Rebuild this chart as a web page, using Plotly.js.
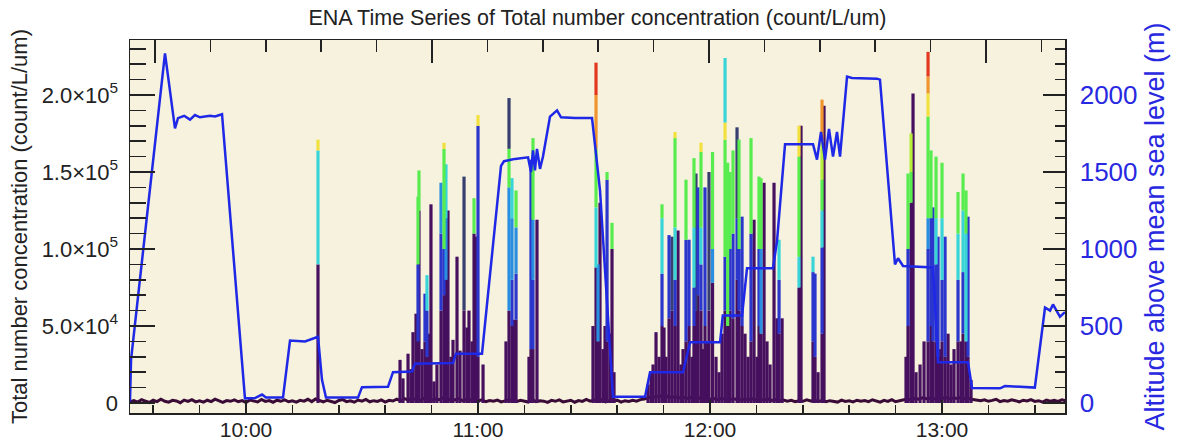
<!DOCTYPE html>
<html><head><meta charset="utf-8">
<script src="https://cdn.plot.ly/plotly-3.0.1.min.js"></script>
<style>html,body{margin:0;padding:0;background:#fff}</style>
</head><body><div id="chart" style="width:1185px;height:442px"></div>
<script>
const DAY = '2017-07-01 ';
const FONT = 'Liberation Sans, Arial, Helvetica, sans-serif';

// Altitude (m), right axis
const altTimes = ["09:30:00","09:30:16","09:39:03","09:41:38","09:42:25","09:44:00","09:45:31","09:46:48","09:48:06","09:50:41","09:52:00","09:53:48","09:59:44","10:02:20","10:04:08","10:05:10","10:09:34","10:11:23","10:15:16","10:18:06","10:18:37","10:19:39","10:20:41","10:28:58","10:30:00","10:36:43","10:38:01","10:42:55","10:43:42","10:53:32","10:54:18","11:01:02","11:05:57","11:06:43","11:09:34","11:12:56","11:13:42","11:14:13","11:14:44","11:15:15","11:16:02","11:16:48","11:18:37","11:20:26","11:21:28","11:25:05","11:29:29","11:31:33","11:34:54","11:43:12","11:44:29","11:53:01","11:54:50","12:02:36","12:03:18","12:08:17","12:09:34","12:16:17","12:17:20","12:19:24","12:26:38","12:27:40","12:28:42","12:29:44","12:30:46","12:31:48","12:32:50","12:33:37","12:35:26","12:36:43","12:43:11","12:43:57","12:47:50","12:48:37","12:49:55","12:57:40","12:58:58","13:06:43","13:07:45","13:15:00","13:16:17","13:24:00","13:26:38","13:27:56","13:28:42","13:30:30","13:31:47"];
const altMeters = [10,280,2270,1783,1850,1865,1840,1870,1855,1865,1860,1875,30,32,55,35,35,405,400,425,430,150,35,35,103,105,200,205,255,260,320,320,1540,1570,1585,1595,1500,1640,1510,1650,1520,1600,1860,1900,1855,1850,1850,1380,40,40,200,200,394,394,568,568,875,875,1053,1680,1680,1580,1760,1580,1780,1600,1760,1600,2119,2110,2106,2100,900,940,890,880,265,265,97,95,110,100,620,600,640,560,590];

// Baseline total concentration, one value per minute from 09:30
const baselineStart = "09:30:00";
const baselineValues = [
800,1500,600,2100,1200,300,1800,900,2400,1100,
500,1700,1300,200,1900,1000,2200,700,1400,600,
1800,900,2500,1200,400,1600,1100,2000,800,1500,
300,1900,1200,700,2300,1000,1600,500,1800,1100,
2000,800,1400,600,1700,1200,2400,900,2600,1500,
700,1800,1100,300,1600,2200,900,1400,500,1900,
1200,2300,800,1500,1000,2000,600,1700,1300,2500,
1400,2800,1900,3200,2200,1600,3000,2400,1800,2700,
2100,3300,1700,2600,2000,2900,1500,2300,1900,2500,
1300,2000,800,1600,1100,1900,700,1400,2100,1600,
1000,1800,1300,600,2200,900,1500,1200,400,1700,
1100,2000,700,1400,1800,500,1600,1000,2300,1200,
1900,1400,2100,800,1600,1100,1800,600,1500,1000,
1700,1200,2200,2600,3500,4200,3800,4600,3900,4400,
3600,4100,3300,3900,3000,3500,2800,3400,2600,3100,
2400,2900,2200,3000,2500,2000,2800,2300,1900,2600,
2100,2700,1800,2400,2000,2600,1700,2300,1500,1900,
1200,1700,900,1500,1100,2000,1300,1800,1000,1600,
800,1500,1200,600,1900,1000,1400,700,1800,1100,
1600,900,2100,1300,500,1700,1000,2200,800,1400,
1900,2600,2200,3100,2500,3400,2800,3200,2600,3500,
3000,3600,2700,3300,2900,3700,2600,3100,2200,1800,
1400,2000,1100,1700,2400,900,1600,1200,2100,1500,
700,1800,1300,2200,1000,1500,600,1900,1200,1700,
1000,2000,1400];

// Spikes: time and colour stack (key + upper value in thousands)
const spikeTimes = ["10:18:37","10:39:50","10:40:36","10:41:54","10:42:40","10:43:11","10:43:58","10:44:29","10:44:44","10:45:31","10:46:17","10:46:48","10:47:19","10:47:50","10:48:36","10:49:23","10:50:26","10:51:12","10:51:43","10:52:14","10:53:01","10:53:32","10:54:34","10:55:21","10:56:23","10:57:09","10:57:40","10:58:27","10:58:58","10:59:29","11:00:00","11:01:18","11:07:14","11:08:01","11:08:47","11:09:18","11:09:50","11:13:11","11:13:42","11:14:13","11:15:15","11:29:44","11:30:31","11:31:02","11:31:33","11:32:20","11:32:51","11:33:22","11:34:08","11:34:39","11:35:10","11:43:58","11:44:45","11:45:16","11:46:02","11:46:49","11:47:35","11:48:06","11:48:37","11:49:24","11:50:10","11:50:57","11:51:43","11:52:30","11:53:01","11:53:47","11:54:34","11:55:20","11:55:51","11:56:22","11:56:53","11:57:40","11:58:11","11:58:42","11:59:13","11:59:44","12:00:39","12:01:33","12:02:20","12:03:06","12:03:53","12:04:34","12:05:10","12:05:57","12:06:59","12:07:30","12:08:17","12:09:03","12:09:50","12:10:36","12:11:23","12:12:09","12:12:40","12:13:11","12:13:58","12:14:44","12:15:31","12:16:33","12:17:20","12:17:51","12:18:38","12:23:01","12:23:32","12:26:38","12:27:09","12:27:56","12:28:58","12:29:29","12:50:41","12:51:12","12:51:59","12:52:30","12:53:17","12:54:19","12:55:21","12:56:23","12:57:09","12:57:40","12:58:27","12:58:58","12:59:29","13:00:00","13:00:47","13:01:33","13:02:20","13:03:06","13:04:08","13:04:55","13:05:26","13:06:12","13:06:43","13:07:30"];
const spikeStacks = ["P90 C164 Y171","P28","P16","P32","P22","P46","P58","P40 B90 G134","P125 G151","P35","P40 B71","P30 B60 C83","P45","P129","P14","P25","P60 B110 A143","P70 B100 G165 Y169","P80 A120 C155","P125","P30","P41","P95","P34","P60 S147","P49","P60","P40","P110 G133","P108","P30 B180 Y187","P25","P40","P60 A140 G165 S198","P50 B80 A120 C146","P54","P54 B84 A114 G138","P30","P35 B158","P35 B80 A119 G172","P119","P50","P88 C127 G165 O200 R221","P40 A90","P130","P35","P50","P40 B145 G150","P45","P100 G117","P20","P12","P20","P25","P46","P30","P50 B84 C120 G129","P49","P30","P55 B109","P60 S108","P50 B80 C114 G172 Y176","P112","P25","P35","P40 B106 G145","P50 B106","P30","P50 B75 C114 G159","P60 S149","P70 B140","P60 B90 C114 G163 Y169","P35","P50 B140","P40","P60 S150","P78 A100 G163","P30","P20","P45","P60 B95 G171 Y182 C224","P50 G156","P60 B100 G150","P55 B110 G164","P80 B120 S179","P60 B100 G171","P50 B121","P45","P30","P40 B110 G172","P119","P30","P50 B100 G147","P45 A100 G146","P143","P40","P25","P143","P55","P45 B80 C106","P55","P75 C95 G160 Y180","P180","P40 B85 C95","P30 B84","P20","P45 B101 C125 G145 L171 O197","P193","P30","P50 B100 G149","P130 G150 L175","P201","P20","P25","P40","P40 B100 A120 G186 Y201 O212 R228","P50 B120 G164","P40 B127","P40 B90 C120 G160","P30 B108","P35","P40 B80 C120 G156","P30 B108","P45","P25","P35","P40 B80 C110 G137","P40","P45 B85 C125 G149","P40 C110 G138","P30 B121","P15"];

const stackOrder = ['P','S','B','A','C','G','L','Y','O','R'];
const stackColors = {P:'#46105f',S:'#363f70',B:'#2b36cc',A:'#2a8ee0',C:'#38d4d8',G:'#58ec4f',L:'#b6ee3a',Y:'#f2e03e',O:'#f0952d',R:'#e3381f'};

const yTickVals = [0, 50000, 100000, 150000, 200000];
const yTickText = ['0','5.0×10<sup>4</sup>','1.0×10<sup>5</sup>','1.5×10<sup>5</sup>','2.0×10<sup>5</sup>'];

// ---- build traces ----
function dt(hms){ return DAY + hms; }
function addSec(hms, s){
  const p = hms.split(':').map(Number);
  let t = p[0]*3600 + p[1]*60 + p[2] + s;
  const h = Math.floor(t/3600), m = Math.floor((t%3600)/60), sec = t%60;
  const f = v => String(v).padStart(2,'0');
  return f(h)+':'+f(m)+':'+f(sec);
}

const traces = [];
traces.push({
  x: baselineValues.map((v,i)=>dt(addSec(baselineStart, i*60))),
  y: baselineValues, mode:'lines', line:{color:'#3b0b38', width:3},
  hoverinfo:'skip', showlegend:false, xaxis:'x', yaxis:'y'
});
const segs = {}; stackOrder.forEach(k=>segs[k]={x:[],y:[]});
spikeTimes.forEach((t,i)=>{
  let lo = 0;
  spikeStacks[i].split(' ').forEach(tok=>{
    const k = tok[0], hi = Number(tok.slice(1))*1000;
    segs[k].x.push(dt(t), dt(t), null);
    segs[k].y.push(lo, hi, null);
    lo = hi;
  });
});
stackOrder.forEach(k=>{
  traces.push({x:segs[k].x, y:segs[k].y, mode:'lines', line:{color:stackColors[k], width:3.2},
    hoverinfo:'skip', showlegend:false, xaxis:'x', yaxis:'y', connectgaps:false});
});
traces.push({x:[0,1], y:[null,null], xaxis:'x2', yaxis:'y', mode:'lines', hoverinfo:'skip', showlegend:false});
traces.push({x: altTimes.map(dt), y: altMeters, mode:'lines', line:{color:'#1e28e6', width:2.5},
  hoverinfo:'skip', showlegend:false, xaxis:'x', yaxis:'y2'});

const tickCol = '#222';
const layout = {
  width:1185, height:442,
  margin:{l:130, r:120, t:40, b:29},
  paper_bgcolor:'#ffffff', plot_bgcolor:'#f6f2dd',
  showlegend:false,
  font:{family:FONT, color:'#222'},
  title:{text:'ENA Time Series of Total number concentration (count/L/um)', font:{family:FONT, size:21.5, color:'#222'},
    x:0.5, xref:'paper', xanchor:'center', y:1-17/442, yref:'container', yanchor:'middle'},
  xaxis:{type:'date', range:[dt('09:30:00'), dt('13:31:48')], tick0:dt('10:00:00'), dtick:3600000, tickformat:'%H:%M',
    ticks:'inside', ticklen:13, tickwidth:1.5, tickcolor:tickCol,
    minor:{dtick:720000, tick0:dt('10:00:00'), ticks:'inside', ticklen:8, tickwidth:1.5, tickcolor:tickCol},
    showline:true, linecolor:tickCol, linewidth:1.5, showgrid:false, zeroline:false,
    tickfont:{family:FONT, size:21, color:'#222'}, ticklabelstandoff:-3, fixedrange:true},
  xaxis2:{overlaying:'x', side:'top', anchor:'y', range:[-0.451,16.426], tick0:0, dtick:5,
    ticks:'inside', ticklen:23, tickwidth:1.5, tickcolor:tickCol, showticklabels:false,
    minor:{dtick:1, tick0:0, ticks:'inside', ticklen:12, tickwidth:1.5, tickcolor:tickCol},
    showline:true, linecolor:tickCol, linewidth:1.5, showgrid:false, zeroline:false, fixedrange:true},
  yaxis:{range:[-6500,235700], tickmode:'array', tickvals:yTickVals, ticktext:yTickText,
    ticks:'inside', ticklen:25, tickwidth:1.5, tickcolor:tickCol,
    minor:{tickmode:'linear', tick0:0, dtick:10000, ticks:'inside', ticklen:16, tickwidth:1.5, tickcolor:tickCol},
    showline:true, linecolor:tickCol, linewidth:1.5, showgrid:false, zeroline:false,
    tickfont:{family:FONT, size:22, color:'#222'}, ticklabelstandoff:6,
    title:{text:'Total number concentration (count/L/um)', font:{family:FONT, size:22, color:'#222'}, standoff:8},
    fixedrange:true},
  yaxis2:{overlaying:'y', side:'right', anchor:'x', range:[-65,2357], tick0:0, dtick:500,
    ticks:'inside', ticklen:22, tickwidth:1.5, tickcolor:tickCol,
    minor:{dtick:100, tick0:0, ticks:'inside', ticklen:10, tickwidth:1.5, tickcolor:tickCol},
    showline:true, linecolor:tickCol, linewidth:1.5, showgrid:false, zeroline:false,
    tickfont:{family:FONT, size:26, color:'#2828e0'}, ticklabelstandoff:8,
    title:{text:'Altitude above mean sea level (m)', font:{family:FONT, size:27, color:'#2828e0'}, standoff:8},
    fixedrange:true}
};

Plotly.newPlot('chart', traces, layout, {staticPlot:true, displayModeBar:false});
</script>
</body></html>
